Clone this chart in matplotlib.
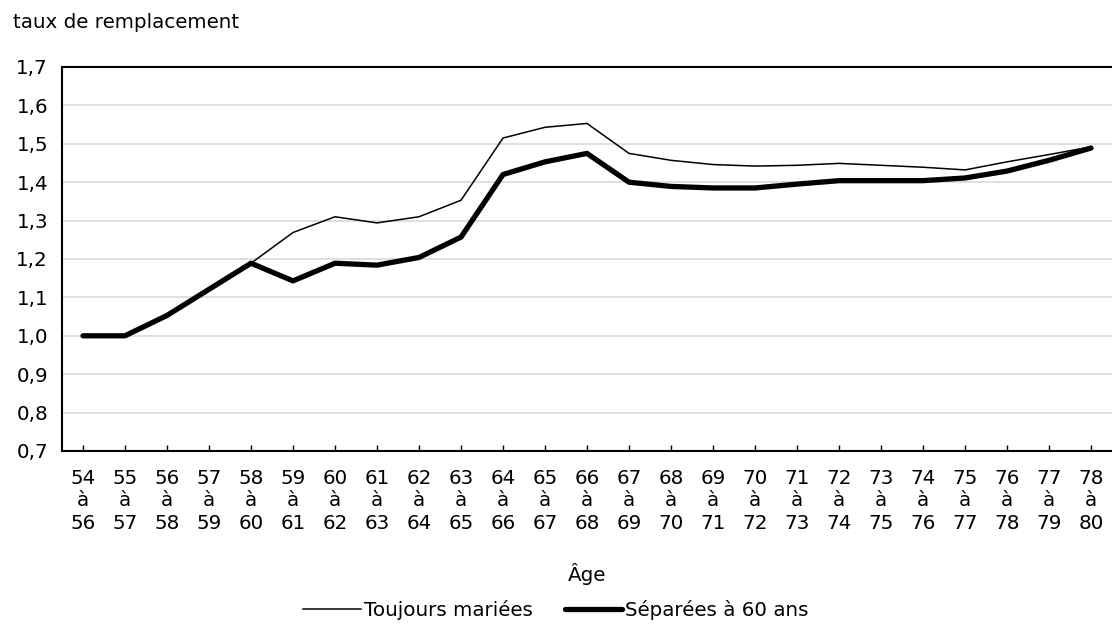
import matplotlib

matplotlib.use("Agg")
import matplotlib.pyplot as plt
import numpy as np

# age brackets "54 à 56" ... "78 à 80"
AGE_START = list(range(54, 79))
AGE_END = list(range(56, 81))

TOUJOURS_MARIEES = [
    1.000, 1.000, 1.053, 1.121, 1.189, 1.269, 1.310, 1.294, 1.310, 1.353,
    1.515, 1.543, 1.553, 1.475, 1.457, 1.446, 1.442, 1.444, 1.449, 1.444,
    1.439, 1.432, 1.453, 1.472, 1.492,
]
SEPAREES_60 = [
    1.000, 1.000, 1.053, 1.121, 1.189, 1.143, 1.189, 1.184, 1.204, 1.257,
    1.420, 1.453, 1.475, 1.400, 1.389, 1.385, 1.385, 1.395, 1.404, 1.404,
    1.404, 1.411, 1.429, 1.457, 1.489,
]
Y_TICKS = [0.7, 0.8, 0.9, 1.0, 1.1, 1.2, 1.3, 1.4, 1.5, 1.6, 1.7]

FONT = 14.3
plt.rcParams["font.family"] = ["DejaVu Sans"]
plt.rcParams["font.size"] = FONT

fig = plt.figure(figsize=(11.12, 6.29), dpi=100)
ax = fig.add_axes([62 / 1112, 1 - 451 / 629, 1050 / 1112, (451 - 67) / 629])

x = np.arange(len(AGE_START))
ax.plot(x, TOUJOURS_MARIEES, color="black", lw=1.1, label="Toujours mariées")
ax.plot(x, SEPAREES_60, color="black", lw=3.8, solid_capstyle="round", label="Séparées à 60 ans")

ax.set_xlim(-0.5, len(x) - 0.5)
ax.set_ylim(0.7, 1.7)
ax.set_yticks(Y_TICKS, [f"{v:.1f}".replace(".", ",") for v in Y_TICKS])
ax.set_xticks(x, [f"{a}\nà\n{b}" for a, b in zip(AGE_START, AGE_END)])
ax.tick_params(axis="x", direction="in", length=4, width=1, pad=13)
ax.tick_params(axis="y", length=0, pad=10)
for lab in ax.get_xticklabels():
    lab.set_linespacing(1.22)

ax.grid(axis="y", color="#d9d9d9", lw=1.2)
ax.set_axisbelow(True)
ax.spines["right"].set_visible(False)
for side in ("left", "bottom", "top"):
    ax.spines[side].set_linewidth(1.5)

ax.set_xlabel("Âge", labelpad=22)
fig.text(13 / 1112, 1 - 22 / 629, "taux de remplacement", va="center", ha="left")

fig.legend(
    loc="center", bbox_to_anchor=(556 / 1112, 1 - 610 / 629), ncol=2, frameon=False,
    handlelength=2.9, handletextpad=0.15, columnspacing=1.6,
)

fig.savefig("out.png", dpi=100)
